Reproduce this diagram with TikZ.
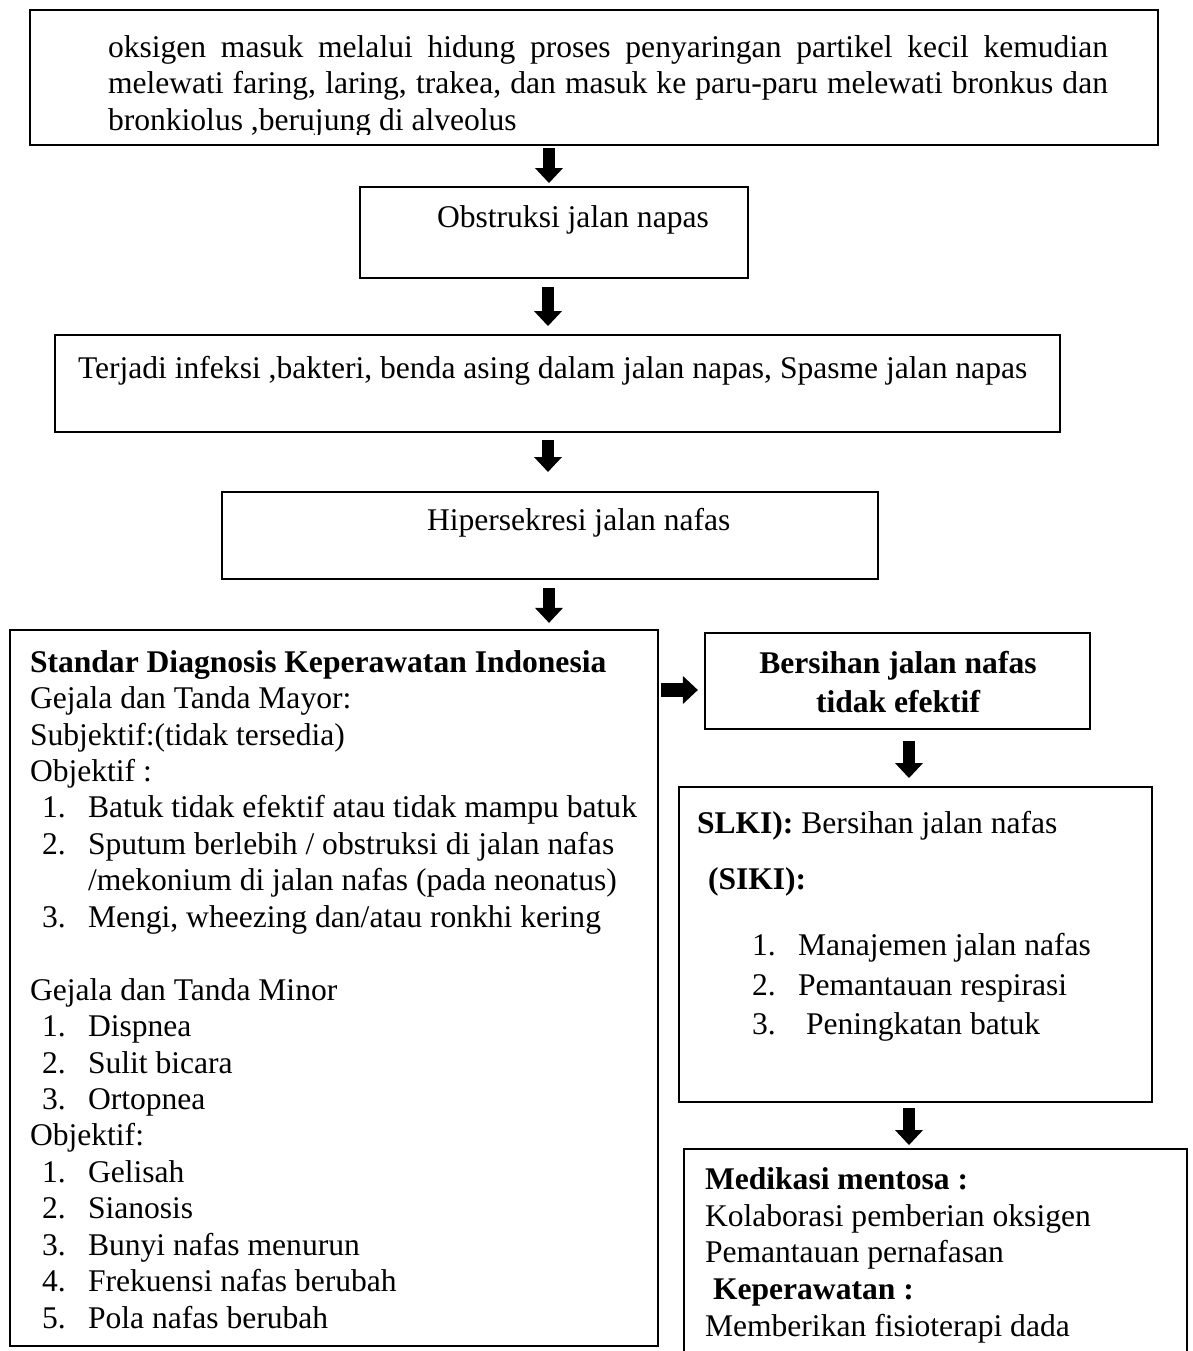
\documentclass[tikz,border=0pt]{standalone}
\usepackage{fontspec}
\setmainfont{Liberation Serif}
\usetikzlibrary{arrows.meta,fit,calc}
\tikzset{
  box/.style={draw, line width=0.95pt, inner sep=0pt, outer sep=0pt, fit={#1}},
  txt/.style={anchor=base west, inner sep=0pt, outer sep=0pt, font=\fontsize{12}{13.8}\selectfont},
  ctxt/.style={anchor=base, inner sep=0pt, outer sep=0pt, font=\fontsize{12}{13.8}\selectfont\bfseries},
  barrow/.style={line width=4.6pt, -{Triangle[length=5.7pt,width=10.3pt]}},
}
\begin{document}
\begin{tikzpicture}[x=0.38pt,y=-0.38pt]
\useasboundingbox (0,0) rectangle (1193,1351);

% boxes
\node[box={(30,10) (1158,145)}] (b1) {};
\node[box={(360,187) (748,278)}] (b2) {};
\node[box={(55,335) (1060,432)}] (b3) {};
\node[box={(222,492) (878,579)}] (b4) {};
\node[box={(10,630) (658,1346)}] (b5) {};
\node[box={(705,633) (1090,729)}] (b6) {};
\node[box={(679,787) (1152,1102)}] (b7) {};
\node[box={(684,1149) (1187,1420)}] (b8) {};

% box 1 text (clipped at the bottom like the original)
\begin{scope}
\clip (30,10) rectangle (1158,134);
\node[txt] (t1a) at (108,57) {\makebox[380pt][s]{oksigen masuk melalui hidung proses penyaringan partikel kecil kemudian}};
\node[txt] (t1b) at (108,93.5) {\makebox[380pt][s]{melewati faring, laring, trakea, dan masuk ke paru-paru melewati bronkus dan}};
\node[txt] (t1c) at (108,130) {bronkiolus ,berujung di alveolus};
\end{scope}

\node[txt] (t2) at (437,227) {Obstruksi jalan napas};
\node[txt] (t3) at (78,378) {Terjadi infeksi ,bakteri, benda asing dalam jalan napas, Spasme jalan napas};
\node[txt] (t4) at (427,530) {Hipersekresi jalan nafas};

% box 5 text
\node[txt] (l0) at (30,672) {\bfseries Standar Diagnosis Keperawatan Indonesia};
\node[txt] (l1) at (30,708.5) {Gejala dan Tanda Mayor:};
\node[txt] (l2) at (30,745) {Subjektif:(tidak tersedia)};
\node[txt] (l3) at (30,781.4) {Objektif :};
\node[txt] (n4) at (42,817.8) {1.};
\node[txt] (l4) at (88,817.8) {Batuk tidak efektif atau tidak mampu batuk};
\node[txt] (n5) at (42,854.3) {2.};
\node[txt] (l5) at (88,854.3) {Sputum berlebih / obstruksi di jalan nafas};
\node[txt] (l6) at (88,890.7) {/mekonium di jalan nafas (pada neonatus)};
\node[txt] (n7) at (42,927.2) {3.};
\node[txt] (l7) at (88,927.2) {Mengi, wheezing dan/atau ronkhi kering};
\node[txt] (l9) at (30,1000) {Gejala dan Tanda Minor};
\node[txt] (n10) at (42,1036.5) {1.};
\node[txt] (l10) at (88,1036.5) {Dispnea};
\node[txt] (n11) at (42,1073) {2.};
\node[txt] (l11) at (88,1073) {Sulit bicara};
\node[txt] (n12) at (42,1109.4) {3.};
\node[txt] (l12) at (88,1109.4) {Ortopnea};
\node[txt] (l13) at (30,1145.9) {Objektif:};
\node[txt] (n14) at (42,1182.3) {1.};
\node[txt] (l14) at (88,1182.3) {Gelisah};
\node[txt] (n15) at (42,1218.8) {2.};
\node[txt] (l15) at (88,1218.8) {Sianosis};
\node[txt] (n16) at (42,1255.2) {3.};
\node[txt] (l16) at (88,1255.2) {Bunyi nafas menurun};
\node[txt] (n17) at (42,1291.7) {4.};
\node[txt] (l17) at (88,1291.7) {Frekuensi nafas berubah};
\node[txt] (n18) at (42,1328) {5.};
\node[txt] (l18) at (88,1328) {Pola nafas berubah};

% box 6 text
\node[ctxt] (t6a) at (898,673) {Bersihan jalan nafas};
\node[ctxt] (t6b) at (898,712) {tidak efektif};

% box 7 text
\node[txt] (t7a) at (697,833) {\textbf{SLKI):} Bersihan jalan nafas};
\node[txt] (t7b) at (708,889) {\bfseries (SIKI):};
\node[txt] (m1) at (752,955) {1.};
\node[txt] (t7c) at (798,955) {Manajemen jalan nafas};
\node[txt] (m2) at (752,995) {2.};
\node[txt] (t7d) at (798,995) {Pemantauan respirasi};
\node[txt] (m3) at (752,1034) {3.};
\node[txt] (t7e) at (806,1034) {Peningkatan batuk};

% box 8 text
\node[txt] (t8a) at (705,1189) {\bfseries Medikasi mentosa :};
\node[txt] (t8b) at (705,1226) {Kolaborasi pemberian oksigen};
\node[txt] (t8c) at (705,1262) {Pemantauan pernafasan};
\node[txt] (t8d) at (713,1299) {\bfseries Keperawatan :};
\node[txt] (t8e) at (705,1336) {Memberikan fisioterapi dada};

% arrows
\coordinate (ax1) at (549,0);
\coordinate (ax2) at (548,0);
\coordinate (ax3) at (548,0);
\coordinate (ax4) at (549,0);
\coordinate (ay5) at (0,690);
\coordinate (ax6) at (909,0);
\draw[barrow, shorten <=1.1pt, shorten >=1.5pt] (ax1 |- b1.south) -- (ax1 |- b2.north);
\draw[barrow, shorten <=3.4pt, shorten >=3.4pt] (ax2 |- b2.south) -- (ax2 |- b3.north);
\draw[barrow, shorten <=3.0pt, shorten >=7.6pt] (ax3 |- b3.south) -- (ax3 |- b4.north);
\draw[barrow, shorten <=3.4pt, shorten >=2.7pt] (ax4 |- b4.south) -- (ax4 |- b5.north);
\draw[barrow, line width=5.2pt, shorten <=1.0pt, shorten >=2.7pt] (ay5 -| b5.east) -- (ay5 -| b6.west);
\draw[barrow, shorten <=4.5pt, shorten >=3.4pt] (ax6 |- b6.south) -- (ax6 |- b7.north);
\draw[barrow, shorten <=2.3pt, shorten >=1.5pt] (ax6 |- b7.south) -- (ax6 |- b8.north);
\end{tikzpicture}
\end{document}
